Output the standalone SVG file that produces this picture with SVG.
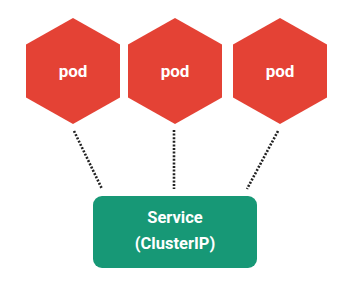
<svg xmlns="http://www.w3.org/2000/svg" width="342" height="292" viewBox="0 0 342 292">
<style>
.hex{fill:#E44235}
.lbl{font-family:Roboto,"Liberation Sans",sans-serif;font-weight:bold;fill:#fff;text-anchor:middle}
.pod{font-size:17px}
.svc{font-size:16.5px}
.dot{stroke:#222;stroke-width:2.6;stroke-dasharray:2 1.6;fill:none}
</style>
<rect width="342" height="292" fill="#fff"/>
<g id="connectors">
<line class="dot" x1="74" y1="131" x2="102" y2="189"/>
<line class="dot" x1="174" y1="130" x2="174" y2="189"/>
<line class="dot" x1="278" y1="131" x2="247" y2="189"/>
</g>
<g id="pod1">
<polygon class="hex" points="73,18 120,44.5 120,97.5 73,124 26,97.5 26,44.5"/>
<text class="lbl pod" x="73" y="77">pod</text>
</g>
<g id="pod2">
<polygon class="hex" points="175,18 222,44.5 222,97.5 175,124 128,97.5 128,44.5"/>
<text class="lbl pod" x="175" y="77">pod</text>
</g>
<g id="pod3">
<polygon class="hex" points="280,18 327,44.5 327,97.5 280,124 233,97.5 233,44.5"/>
<text class="lbl pod" x="280" y="77">pod</text>
</g>
<g id="service">
<rect x="93" y="196" width="164" height="72" rx="9" fill="#179876"/>
<text class="lbl svc" x="175" y="223">Service</text>
<text class="lbl svc" x="175" y="249">(ClusterIP)</text>
</g>
</svg>
